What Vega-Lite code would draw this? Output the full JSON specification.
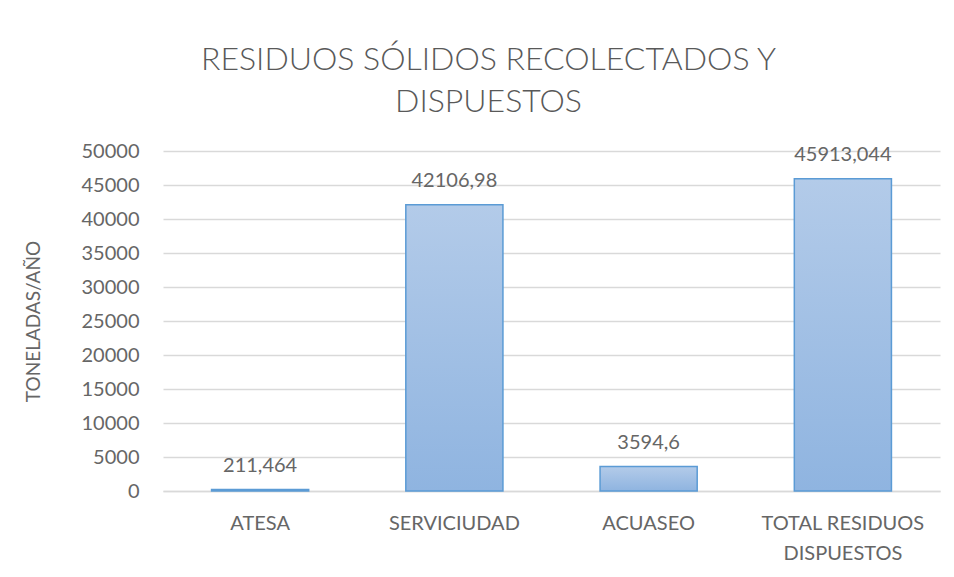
{
  "$schema": "https://vega.github.io/schema/vega-lite/v6.json",
  "width": 777,
  "height": 340,
  "autosize": {"type": "none"},
  "padding": {"left": 163, "top": 151, "right": 14, "bottom": 86},
  "background": "white",
  "title": {
    "text": ["RESIDUOS SÓLIDOS RECOLECTADOS Y", "DISPUESTOS"],
    "font": "Lato",
    "fontSize": 32,
    "fontWeight": 300,
    "color": "#595959",
    "anchor": "middle",
    "dx": -63,
    "offset": 22,
    "lineHeight": 42
  },
  "data": {
    "values": [
      {"entidad": "ATESA", "toneladas": 211.464, "etiqueta": "211,464"},
      {"entidad": "SERVICIUDAD", "toneladas": 42106.98, "etiqueta": "42106,98"},
      {"entidad": "ACUASEO", "toneladas": 3594.6, "etiqueta": "3594,6"},
      {"entidad": "TOTAL RESIDUOS DISPUESTOS", "toneladas": 45913.044, "etiqueta": "45913,044"}
    ]
  },
  "config": {
    "view": {"stroke": null},
    "font": "Lato"
  },
  "encoding": {
    "x": {
      "field": "entidad",
      "type": "nominal",
      "sort": null,
      "scale": {"paddingInner": 0.5, "paddingOuter": 0.25},
      "axis": {
        "title": null,
        "labelAngle": 0,
        "labelFont": "Lato",
        "labelFontSize": 20,
        "labelFontWeight": "normal",
        "labelColor": "#666666",
        "labelPadding": 32,
        "labelLineHeight": 30,
        "labelBaseline": "middle",
        "labelExpr": "datum.label == 'TOTAL RESIDUOS DISPUESTOS' ? ['TOTAL RESIDUOS', 'DISPUESTOS'] : datum.label",
        "ticks": false,
        "domainColor": "#d9d9d9",
        "domainWidth": 1.5
      }
    },
    "y": {
      "field": "toneladas",
      "type": "quantitative",
      "scale": {"domain": [0, 50000], "nice": false},
      "axis": {
        "title": "TONELADAS/AÑO",
        "titleFont": "Lato",
        "titleFontSize": 19,
        "titleFontWeight": "normal",
        "titleColor": "#666666",
        "titlePadding": 38,
        "values": [0, 5000, 10000, 15000, 20000, 25000, 30000, 35000, 40000, 45000, 50000],
        "format": "d",
        "labelFont": "Lato",
        "labelFontSize": 20,
        "labelFontWeight": "normal",
        "labelColor": "#666666",
        "labelPadding": 24,
        "ticks": false,
        "domain": false,
        "grid": true,
        "gridColor": "#d9d9d9",
        "gridWidth": 1.5
      }
    }
  },
  "layer": [
    {
      "mark": {
        "type": "bar",
        "stroke": "#5b9bd5",
        "strokeWidth": 1.5,
        "color": {
          "gradient": "linear",
          "x1": 0, "y1": 0, "x2": 0, "y2": 1,
          "stops": [
            {"offset": 0, "color": "#b3cbe9"},
            {"offset": 1, "color": "#8fb4e0"}
          ]
        }
      }
    },
    {
      "mark": {
        "type": "text",
        "baseline": "middle",
        "dy": -24,
        "font": "Lato",
        "fontSize": 20,
        "fontWeight": "normal",
        "color": "#666666"
      },
      "encoding": {"text": {"field": "etiqueta"}}
    }
  ]
}
